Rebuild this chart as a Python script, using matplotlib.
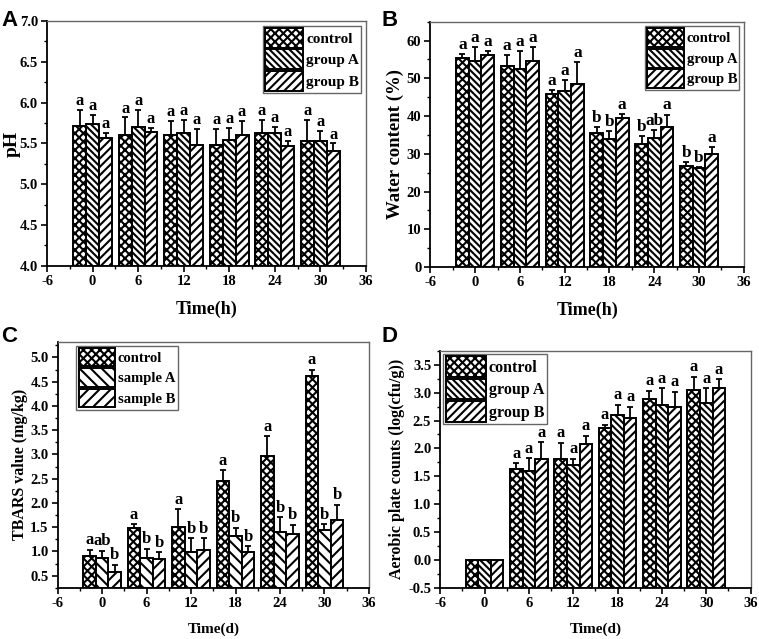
import numpy as np
import matplotlib
matplotlib.use("Agg")
import matplotlib.pyplot as plt
from matplotlib.ticker import MultipleLocator

plt.rcParams["font.family"] = ["Liberation Serif", "DejaVu Serif"]
plt.rcParams["font.weight"] = "bold"
plt.rcParams["hatch.linewidth"] = 1.5
plt.rcParams["axes.unicode_minus"] = False

times = [0, 6, 12, 18, 24, 30]

# A: pH
ph_ctrl = [5.71, 5.60, 5.60, 5.48, 5.63, 5.53]
ph_ctrl_err = [0.20, 0.22, 0.18, 0.20, 0.16, 0.26]
ph_a = [5.74, 5.70, 5.63, 5.54, 5.63, 5.53]
ph_a_err = [0.11, 0.21, 0.16, 0.15, 0.07, 0.12]
ph_b = [5.57, 5.64, 5.48, 5.60, 5.47, 5.41]
ph_b_err = [0.06, 0.05, 0.20, 0.18, 0.06, 0.09]
ph_lab = [["a", "a", "a"]] * 6

# B: water content
wc_ctrl = [55.5, 53.3, 45.9, 35.4, 32.7, 26.8]
wc_ctrl_err = [0.9, 2.8, 1.1, 1.8, 1.9, 1.0]
wc_a = [54.6, 52.5, 46.6, 33.9, 34.3, 26.2]
wc_a_err = [3.8, 4.8, 3.0, 2.1, 2.0, 0.2]
wc_b = [56.3, 54.5, 48.5, 39.4, 37.2, 29.9]
wc_b_err = [1.0, 3.7, 5.8, 1.2, 3.2, 2.0]
wc_lab = [["a", "a", "a"], ["a", "a", "a"], ["a", "a", "a"],
          ["b", "b", "a"], ["b", "ab", "a"], ["b", "b", "a"]]

# C: TBARS
tb_ctrl = [0.90, 1.49, 1.50, 2.46, 2.97, 4.62]
tb_ctrl_err = [0.14, 0.07, 0.37, 0.22, 0.40, 0.13]
tb_a = [0.87, 0.87, 0.99, 1.32, 1.41, 1.45]
tb_a_err = [0.15, 0.19, 0.28, 0.17, 0.30, 0.11]
tb_b = [0.57, 0.84, 1.04, 0.99, 1.37, 1.65]
tb_b_err = [0.16, 0.15, 0.23, 0.12, 0.18, 0.31]
tb_lab = [["a", "ab", "b"]] + [["a", "b", "b"]] * 5

# D: aerobic plate counts
ap_ctrl = [0.0, 1.63, 1.81, 2.37, 2.88, 3.05]
ap_ctrl_err = [0.0, 0.10, 0.29, 0.05, 0.15, 0.23]
ap_a = [0.0, 1.60, 1.70, 2.60, 2.78, 2.81]
ap_a_err = [0.0, 0.22, 0.11, 0.18, 0.30, 0.27]
ap_b = [0.0, 1.81, 2.08, 2.54, 2.74, 3.08]
ap_b_err = [0.0, 0.30, 0.15, 0.21, 0.27, 0.16]
ap_lab = [None] + [["a", "a", "a"]] * 5

W = 1.7
GRAY = "#666666"


def panel(ax, vals, errs, labels, names, hatches, ylim, ymaj, ymin_, ylabel,
          xlabel, fs_x, fs_y, fs_ann, fs_leg, leg_kw, ann_gap):
    t = np.array(times)
    for k, (v, e, name, h) in enumerate(zip(vals, errs, names, hatches)):
        x = t + (k - 1) * W
        v = np.array(v)
        e = np.array(e)
        ax.bar(x, v - ylim[0], bottom=ylim[0], width=W, color="white",
               edgecolor="black", hatch=h, linewidth=1.4, label=name, zorder=2)
        m = e > 0
        ax.errorbar(x[m], v[m], yerr=[np.zeros(m.sum()), e[m]], fmt="none",
                    ecolor="black", elinewidth=1.3, capsize=2.5, capthick=1.3,
                    zorder=3)
        for i in range(len(t)):
            if labels[i] is None:
                continue
            ax.text(x[i], v[i] + e[i] + ann_gap, labels[i][k], ha="center",
                    va="bottom", fontsize=fs_ann, fontweight="bold")
    ax.set_xlim(-6, 36)
    ax.set_xticks(range(-6, 37, 6))
    ax.xaxis.set_minor_locator(MultipleLocator(3))
    ax.set_ylim(*ylim)
    ax.yaxis.set_major_locator(MultipleLocator(ymaj))
    ax.yaxis.set_minor_locator(MultipleLocator(ymin_))
    ax.tick_params(which="major", length=4, width=1.2, labelsize=10.5, pad=2.5)
    ax.tick_params(which="minor", length=2, width=1.0)
    for s in ["left", "bottom"]:
        ax.spines[s].set_linewidth(1.3)
    for s in ["top", "right"]:
        ax.spines[s].set_color(GRAY)
        ax.spines[s].set_linewidth(1.0)
    ax.set_xlabel(xlabel, fontsize=fs_x, fontweight="bold", labelpad=9)
    ax.set_ylabel(ylabel, fontsize=fs_y, fontweight="bold", labelpad=2)
    leg = ax.legend(fontsize=fs_leg, handlelength=2.5, handleheight=1.6,
                    labelspacing=0.12, borderpad=0.15, handletextpad=0.2,
                    fancybox=False, edgecolor=GRAY, framealpha=1, **leg_kw)
    leg.get_frame().set_linewidth(1.0)


fig = plt.figure(figsize=(7.59, 6.39), dpi=100)
axA = fig.add_axes([0.062, 0.584, 0.420, 0.383])
axB = fig.add_axes([0.567, 0.582, 0.413, 0.384])
axC = fig.add_axes([0.076, 0.080, 0.410, 0.385])
axD = fig.add_axes([0.580, 0.080, 0.409, 0.371])

grp = ["control", "group A", "group B"]
smp = ["control", "sample A", "sample B"]
dense = ["xxxx", "\\\\\\\\\\", "////"]

panel(axA, [ph_ctrl, ph_a, ph_b], [ph_ctrl_err, ph_a_err, ph_b_err], ph_lab,
      grp, dense, (4.0, 7.0), 0.5, 0.25, "pH", "Time(h)", 13, 14, 12, 11,
      dict(loc="upper right", borderaxespad=0.3), 0.01)
axA.yaxis.set_label_coords(-0.083, 0.5)
panel(axB, [wc_ctrl, wc_a, wc_b], [wc_ctrl_err, wc_a_err, wc_b_err], wc_lab,
      grp, dense, (0, 65), 10, 5, "Water content (%)", "Time(h)", 13, 13.5,
      12.5, 10.5, dict(loc="upper right", borderaxespad=0.3), 0.3)
panel(axC, [tb_ctrl, tb_a, tb_b], [tb_ctrl_err, tb_a_err, tb_b_err], tb_lab,
      smp, ["xxxx", "\\\\\\", "///"], (0.25, 5.32), 0.5, 0.25,
      "TBARS value (mg/kg)", "Time(d)", 11, 11.5, 12, 10.5,
      dict(loc="upper left", bbox_to_anchor=(0.06, 0.985), borderaxespad=0),
      0.03)
panel(axD, [ap_ctrl, ap_a, ap_b], [ap_ctrl_err, ap_a_err, ap_b_err], ap_lab,
      grp, dense, (-0.5, 3.75), 0.5, 0.25,
      "Aerobic plate counts (log(cfu/g))", "Time(d)", 11, 11.5, 12, 11.5,
      dict(loc="upper left", borderaxespad=0.2), 0.03)

for lab, x, y in [("A", 0.002, 0.985), ("B", 0.502, 0.985),
                  ("C", 0.002, 0.490), ("D", 0.502, 0.490)]:
    fig.text(x, y, lab, fontsize=16, fontweight="bold", va="top", ha="left",
             family=["Liberation Sans", "DejaVu Sans"])

fig.savefig("out.png", dpi=100)
